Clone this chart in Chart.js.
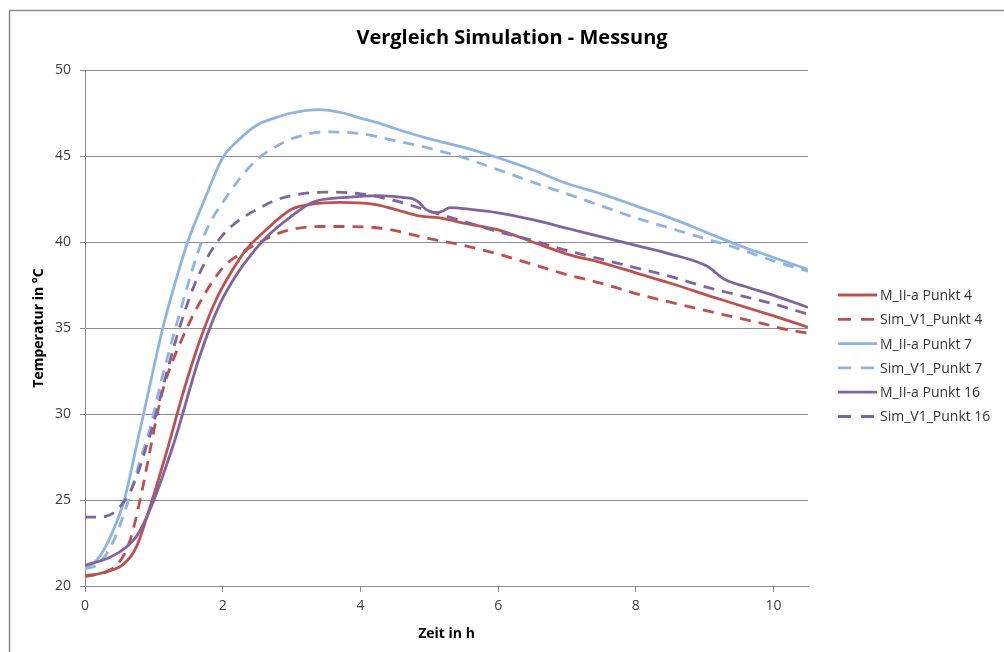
<!DOCTYPE html>
<html>
<head>
<meta charset="utf-8">
<script src="https://cdn.jsdelivr.net/npm/chart.js@4"></script>
<style>
  html, body { margin: 0; padding: 0; background: #fff; }
  #wrap { width: 1004px; height: 652px; position: relative; }
</style>
</head>
<body>
<div id="wrap"><canvas id="chart" width="1004" height="652"></canvas></div>
<script>
// Series names
const seriesNames = ['M_II-a Punkt 4', 'Sim_V1_Punkt 4', 'M_II-a Punkt 7', 'Sim_V1_Punkt 7', 'M_II-a Punkt 16', 'Sim_V1_Punkt 16'];
const chartTitle = 'Vergleich Simulation - Messung';

// Zeit in h / Temperatur in °C
const timeM4 = [0, 0.28, 0.57, 0.75, 0.96, 1.2, 1.43, 1.67, 1.91, 2.1, 2.35, 2.6, 3.0, 3.3, 3.7, 4.18, 4.5, 4.87, 5.15, 5.5, 6.0, 6.5, 7.0, 7.5, 8.0, 8.5, 9.2, 9.6, 10.0, 10.5];
const tempM4 = [20.55, 20.8, 21.3, 22.3, 24.8, 28.0, 31.3, 34.3, 36.7, 38.1, 39.6, 40.6, 41.9, 42.2, 42.3, 42.2, 41.9, 41.5, 41.4, 41.1, 40.7, 40.0, 39.3, 38.8, 38.2, 37.6, 36.7, 36.2, 35.7, 35.05];

const timeSim4 = [0, 0.3, 0.5, 0.65, 0.8, 0.95, 1.06, 1.16, 1.38, 1.67, 2.0, 2.25, 2.5, 2.88, 3.4, 3.8, 4.3, 5.0, 5.5, 6.0, 6.5, 7.0, 7.5, 8.0, 8.5, 9.3, 9.8, 10.2, 10.5];
const tempSim4 = [20.6, 20.8, 21.4, 22.6, 25.0, 28.0, 30.2, 31.8, 34.1, 36.5, 38.5, 39.3, 39.9, 40.6, 40.9, 40.9, 40.8, 40.2, 39.8, 39.3, 38.7, 38.1, 37.6, 37.0, 36.5, 35.75, 35.3, 34.9, 34.7];

const timeM7 = [0, 0.17, 0.35, 0.57, 0.74, 0.9, 1.13, 1.3, 1.5, 1.75, 2.0, 2.25, 2.5, 2.75, 3.0, 3.4, 3.75, 4.0, 4.28, 4.5, 5.0, 5.5, 6.0, 6.5, 7.0, 7.5, 8.0, 8.5, 9.0, 9.5, 10.0, 10.5];
const tempM7 = [21.0, 21.5, 22.7, 25.0, 28.0, 30.9, 35.0, 37.5, 40.1, 42.6, 44.9, 46.0, 46.8, 47.2, 47.5, 47.7, 47.5, 47.2, 46.9, 46.6, 46.0, 45.5, 44.9, 44.2, 43.4, 42.8, 42.1, 41.4, 40.6, 39.8, 39.1, 38.4];

const timeSim7 = [0, 0.2, 0.4, 0.6, 0.8, 0.94, 1.1, 1.35, 1.64, 1.8, 2.0, 2.25, 2.5, 2.75, 3.0, 3.5, 4.0, 4.38, 5.0, 5.5, 6.0, 6.7, 7.0, 7.5, 8.0, 8.5, 9.0, 9.5, 10.0, 10.5];
const tempSim7 = [21.0, 21.3, 22.5, 24.6, 27.3, 29.1, 31.8, 35.5, 39.4, 41.0, 42.3, 43.7, 44.8, 45.5, 46.0, 46.4, 46.3, 46.0, 45.45, 44.9, 44.2, 43.2, 42.8, 42.1, 41.4, 40.8, 40.2, 39.6, 38.9, 38.3];

const timeM16 = [0, 0.38, 0.61, 0.75, 0.96, 1.29, 1.67, 1.96, 2.2, 2.4, 2.64, 3.0, 3.3, 3.8, 4.28, 4.6, 4.77, 4.85, 4.95, 5.1, 5.2, 5.3, 5.6, 6.0, 6.5, 7.0, 7.5, 8.0, 8.5, 9.03, 9.3, 9.6, 10.0, 10.5];
const tempM16 = [21.2, 21.7, 22.3, 22.9, 24.6, 28.3, 33.4, 36.4, 38.1, 39.2, 40.3, 41.5, 42.3, 42.6, 42.7, 42.6, 42.5, 42.3, 41.9, 41.7, 41.8, 42.0, 41.9, 41.7, 41.3, 40.8, 40.3, 39.8, 39.3, 38.6, 37.8, 37.4, 36.9, 36.2];

const timeSim16 = [0, 0.17, 0.3, 0.46, 0.67, 0.78, 0.89, 0.97, 1.2, 1.41, 1.6, 1.82, 2.0, 2.25, 2.5, 2.75, 3.0, 3.5, 4.0, 4.5, 5.0, 5.5, 6.0, 6.5, 7.0, 7.5, 8.0, 8.5, 9.0, 9.5, 10.0, 10.5];
const tempSim16 = [24.0, 24.0, 24.05, 24.4, 25.6, 26.7, 28.1, 29.1, 32.6, 35.5, 37.6, 39.4, 40.4, 41.3, 41.9, 42.4, 42.7, 42.9, 42.8, 42.4, 41.8, 41.2, 40.6, 40.1, 39.5, 39.0, 38.5, 38.0, 37.4, 36.9, 36.4, 35.8];

const RED = '#c0504d';
const BLUE = '#8db4e2';
const PURPLE = '#8064a2';
const DASH = [11, 8];
const GRID = '#8c8c8c';

function pts(times, temps) {
  return times.map((t, i) => ({ x: t, y: temps[i] }));
}

function makeSet(i, times, temps, color, dashed) {
  return {
    label: seriesNames[i],
    data: pts(times, temps),
    borderColor: color,
    backgroundColor: color,
    borderWidth: 2.8,
    borderDash: dashed ? DASH : [],
    pointRadius: 0,
    fill: false,
    cubicInterpolationMode: 'monotone',
    order: 6 - i
  };
}

// Frame around the whole chart + title centred on the page
const framePlugin = {
  id: 'frame',
  beforeDraw(chart) {
    const ctx = chart.ctx;
    ctx.save();
    ctx.strokeStyle = '#8a8a8a';
    ctx.lineWidth = 1.5;
    ctx.beginPath();
    ctx.moveTo(9.5, 652);
    ctx.lineTo(9.5, 10.5);
    ctx.lineTo(1004, 10.5);
    ctx.stroke();
    ctx.fillStyle = '#000';
    ctx.font = 'bold 20px "Open Sans"';
    ctx.textAlign = 'center';
    ctx.textBaseline = 'middle';
    ctx.fillText(chartTitle, 512, 38);
    ctx.restore();
  }
};

// Legend on the right side
const legendPlugin = {
  id: 'sideLegend',
  afterDraw(chart) {
    const ctx = chart.ctx;
    ctx.save();
    ctx.font = '14px "Open Sans"';
    ctx.textBaseline = 'middle';
    chart.data.datasets.forEach((ds, i) => {
      const y = 295 + i * 24.3;
      ctx.strokeStyle = ds.borderColor;
      ctx.lineWidth = 2.8;
      ctx.setLineDash(ds.borderDash.length ? [13, 10] : []);
      ctx.beginPath();
      ctx.moveTo(838, y);
      ctx.lineTo(877, y);
      ctx.stroke();
      ctx.setLineDash([]);
      ctx.fillStyle = '#333';
      ctx.fillText(ds.label, 880, y + 1);
    });
    ctx.restore();
  }
};

const ctx = document.getElementById('chart').getContext('2d');
new Chart(ctx, {
  type: 'line',
  data: {
    datasets: [
      makeSet(0, timeM4, tempM4, RED, false),
      makeSet(1, timeSim4, tempSim4, RED, true),
      makeSet(2, timeM7, tempM7, BLUE, false),
      makeSet(3, timeSim7, tempSim7, BLUE, true),
      makeSet(4, timeM16, tempM16, PURPLE, false),
      makeSet(5, timeSim16, tempSim16, PURPLE, true)
    ]
  },
  options: {
    responsive: false,
    animation: false,
    events: [],
    layout: { padding: { left: 12, right: 196, top: 70, bottom: 0 } },
    plugins: {
      legend: { display: false },
      tooltip: { enabled: false },
      title: { display: false }
    },
    scales: {
      x: {
        type: 'linear',
        min: 0,
        max: 10.5,
        afterFit(scale) { scale.height = 66; },
        ticks: {
          stepSize: 2,
          includeBounds: false,
          color: '#404040',
          font: { family: 'Open Sans', size: 14 },
          padding: 6,
          maxRotation: 0
        },
        grid: {
          drawOnChartArea: false,
          drawTicks: true,
          tickLength: 6,
          color: GRID
        },
        border: { display: true, color: GRID, width: 1 },
        title: {
          display: true,
          text: 'Zeit in h',
          color: '#000',
          font: { family: 'Open Sans', size: 14, weight: 'bold' },
          padding: { top: 4, bottom: 10 }
        }
      },
      y: {
        min: 20,
        max: 50,
        afterFit(scale) { scale.width = 73; },
        ticks: {
          stepSize: 5,
          color: '#404040',
          font: { family: 'Open Sans', size: 14 },
          padding: 9
        },
        grid: {
          color: GRID,
          tickLength: 5
        },
        border: { display: true, color: GRID, width: 1 },
        title: {
          display: true,
          text: 'Temperatur in °C',
          color: '#000',
          font: { family: 'Open Sans', size: 14, weight: 'bold' },
          padding: { top: 19, bottom: 4 }
        }
      }
    }
  },
  plugins: [framePlugin, legendPlugin]
});
</script>
</body>
</html>
